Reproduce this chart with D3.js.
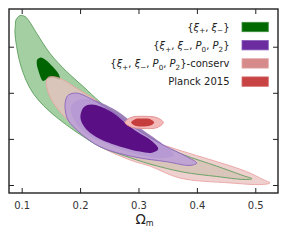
<!DOCTYPE html>
<html>
<head>
<meta charset="utf-8">
<script src="https://cdn.jsdelivr.net/npm/d3@7"></script>
<style>
html, body { margin: 0; padding: 0; background: #fff; }
svg { display: block; font-family: "DejaVu Sans", sans-serif; }
</style>
</head>
<body>
<svg id="chart" width="289" height="241"></svg>
<script>
// tick values (the sigma_8 axis has no labels in this panel)
const xTicks = [0.1, 0.2, 0.3, 0.4, 0.5];
const yTicks = [0.6, 0.8, 1.0, 1.2];

// contours as [Omega_m, sigma_8]
const xiOuter = [
    [0.0902, 1.316], [0.0971, 1.335], [0.1057, 1.331], [0.1125, 1.312],
    [0.1257, 1.258], [0.1485, 1.171], [0.1771, 1.092], [0.2055, 1.027],
    [0.2341, 0.960], [0.2769, 0.875], [0.3197, 0.795], [0.3762, 0.732],
    [0.4339, 0.682], [0.4790, 0.641], [0.4943, 0.627], [0.4807, 0.624],
    [0.4339, 0.637], [0.3767, 0.656], [0.3197, 0.691], [0.2769, 0.726],
    [0.2341, 0.766], [0.2055, 0.810], [0.1771, 0.860], [0.1485, 0.918],
    [0.1284, 0.969], [0.1142, 1.020], [0.1027, 1.085], [0.0959, 1.142],
    [0.0914, 1.200], [0.0885, 1.259], [0.0894, 1.298]
];
const xiInner = [
    [0.1330, 1.153], [0.1267, 1.144], [0.1259, 1.125], [0.1288, 1.095],
    [0.1322, 1.069], [0.1365, 1.051], [0.1433, 1.060], [0.1536, 1.066],
    [0.1656, 1.058], [0.1622, 1.086], [0.1502, 1.121], [0.1399, 1.144]
];
const conservOuter = [
    [0.1455, 1.067], [0.1425, 1.051], [0.1433, 1.021], [0.1485, 0.982],
    [0.1604, 0.934], [0.1771, 0.886], [0.2055, 0.821], [0.2341, 0.767],
    [0.2906, 0.704], [0.3197, 0.682], [0.3711, 0.630], [0.4567, 0.609],
    [0.5115, 0.602], [0.5252, 0.609], [0.5132, 0.624], [0.4853, 0.658],
    [0.4281, 0.706], [0.3711, 0.750], [0.3197, 0.797], [0.2769, 0.871],
    [0.2341, 0.956], [0.1964, 1.016], [0.1712, 1.056], [0.1570, 1.069]
];
const conservInner = [
    [0.1896, 0.960], [0.2135, 0.973], [0.2546, 0.934], [0.3026, 0.847],
    [0.3454, 0.769], [0.3608, 0.730], [0.3454, 0.717], [0.3026, 0.730],
    [0.2512, 0.774], [0.2084, 0.826], [0.1878, 0.891], [0.1844, 0.934]
];
const fullOuter = [
    [0.1798, 0.990], [0.1942, 0.999], [0.2170, 0.976], [0.2512, 0.925],
    [0.2906, 0.853], [0.3368, 0.781], [0.3825, 0.723], [0.3997, 0.695],
    [0.3882, 0.685], [0.3483, 0.701], [0.2906, 0.723], [0.2341, 0.766],
    [0.1998, 0.826], [0.1793, 0.882], [0.1741, 0.940], [0.1759, 0.973]
];
const fullInner = [
    [0.2067, 0.938], [0.2204, 0.949], [0.2512, 0.921], [0.2906, 0.843],
    [0.3248, 0.787], [0.3339, 0.756], [0.3231, 0.740], [0.3026, 0.745],
    [0.2740, 0.763], [0.2341, 0.800], [0.2118, 0.839], [0.2007, 0.891]
];
const planckOuter = [
    [0.2769, 0.871], [0.2872, 0.893], [0.3094, 0.898], [0.3317, 0.892],
    [0.3425, 0.871], [0.3317, 0.849], [0.3094, 0.845], [0.2872, 0.852]
];
const planckInner = [
    [0.2875, 0.871], [0.2940, 0.885], [0.3072, 0.888], [0.3205, 0.885],
    [0.3269, 0.871], [0.3205, 0.858], [0.3072, 0.854], [0.2940, 0.857]
];

// legend labels: [text, kind] with kind "" plain, "i" italic, "s" subscript
const legendNames = [
    [["{", ""], ["ξ", "i"], ["+", "s"], [", ", ""], ["ξ", "i"], ["−", "s"], ["}", ""]],
    [["{", ""], ["ξ", "i"], ["+", "s"], [", ", ""], ["ξ", "i"], ["−", "s"], [", ", ""],
     ["P", "i"], ["0", "s"], [", ", ""], ["P", "i"], ["2", "s"], ["}", ""]],
    [["{", ""], ["ξ", "i"], ["+", "s"], [", ", ""], ["ξ", "i"], ["−", "s"], [", ", ""],
     ["P", "i"], ["0", "s"], [", ", ""], ["P", "i"], ["2", "s"], ["}-conserv", ""]],
    [["Planck 2015", ""]]
];
const legendColors = ["#006a00", "#6a2c9e", "#d68a8a", "#c84444"];
const legendEdges = ["#3f8f3f", "#8a5cbc", "#e4a8a8", "#d46a6a"];

const svg = d3.select('#chart');
const mLeft = 9, mRight = 278, mTop = 9, mBottom = 193;

const x = d3.scaleLinear().domain([0.0783, 0.5389]).range([mLeft, mRight]);
const y = d3.scaleLinear().domain([0.5653, 1.3636]).range([mBottom, mTop]);

let line = d3.line()
    .x(function (d) { return x(d[0]); })
    .y(function (d) { return y(d[1]); })
    .curve(d3.curveCatmullRomClosed.alpha(0.5));

let plot = svg.append('g');

function contour(pts, fill, stroke, opacity) {
    plot.append('path')
        .attr('d', line(pts))
        .attr('fill', fill)
        .attr('fill-opacity', opacity)
        .attr('stroke', stroke || 'none')
        .attr('stroke-width', 0.9);
}

// order of layers matters: conserv sits over xi, full sits over both
contour(xiOuter, '#a3cfa3', null, 1);
contour(xiInner, '#006400', null, 1);
contour(conservOuter, '#e9c2bf', '#eaa4a4', 0.77);
contour(xiOuter, 'none', '#5c9e5c', 1);
contour(conservInner, '#9c80b8', null, 1);
contour(fullOuter, '#bc9ed8', '#8c66bb', 0.86);
contour(fullInner, '#5a0f84', null, 1);
contour(planckOuter, '#f3b8b8', '#e28c8c', 1);
contour(planckInner, '#c63d3d', null, 1);

// axes with inward ticks on all four sides
function styleAxis(g) {
    g.select('.domain').remove();
    g.selectAll('.tick line').attr('stroke', '#222');
}

svg.append('g')
    .attr('transform', 'translate(0,' + mBottom + ')')
    .call(d3.axisBottom(x).tickValues(xTicks).tickSizeInner(-5).tickSizeOuter(0)
        .tickPadding(9).tickFormat(d3.format('.1f')))
    .call(styleAxis)
    .call(g => g.selectAll('text')
        .attr('font-family', '"DejaVu Sans", sans-serif')
        .attr('font-size', 10).attr('fill', '#333'));

svg.append('g')
    .attr('transform', 'translate(0,' + mTop + ')')
    .call(d3.axisTop(x).tickValues(xTicks).tickSizeInner(-5).tickSizeOuter(0).tickFormat(''))
    .call(styleAxis);

svg.append('g')
    .attr('transform', 'translate(' + mLeft + ',0)')
    .call(d3.axisLeft(y).tickValues(yTicks).tickSizeInner(-5).tickSizeOuter(0).tickFormat(''))
    .call(styleAxis);

svg.append('g')
    .attr('transform', 'translate(' + mRight + ',0)')
    .call(d3.axisRight(y).tickValues(yTicks).tickSizeInner(-5).tickSizeOuter(0).tickFormat(''))
    .call(styleAxis);

svg.append('rect')
    .attr('x', mLeft).attr('y', mTop)
    .attr('width', mRight - mLeft).attr('height', mBottom - mTop)
    .attr('fill', 'none').attr('stroke', '#222').attr('stroke-width', 1.4);

// mixed text with italic and subscript pieces
function richText(sel, parts, size) {
    let shift = 0;
    parts.forEach(function (p) {
        const t = sel.append('tspan').text(p[0]);
        const target = p[1] === 's' ? size * 0.28 : 0;
        t.attr('dy', target - shift);
        shift = target;
        if (p[1] === 's') t.attr('font-size', size * 0.72);
        if (p[1] === 'i') t.attr('font-style', 'italic');
    });
}

// x axis title
let xt = svg.append('text')
    .attr('x', 144.5).attr('y', 223.5)
    .attr('text-anchor', 'middle')
    .attr('fill', '#222');
xt.append('tspan').attr('font-size', 13.5).text('Ω');
xt.append('tspan').attr('font-size', 8).attr('dy', 2.5).text('m');

// legend
const rowY = 27, rowStep = 18.2;
legendNames.forEach(function (parts, i) {
    const cy = rowY + rowStep * i;
    let t = svg.append('text')
        .attr('x', 229.5).attr('y', cy + 3.5)
        .attr('text-anchor', 'end')
        .attr('font-size', 10)
        .attr('fill', '#222');
    richText(t, parts, 10);
    svg.append('rect')
        .attr('x', 242).attr('y', cy - 4.7)
        .attr('width', 26.3).attr('height', 9.4)
        .attr('fill', legendColors[i])
        .attr('stroke', legendEdges[i]).attr('stroke-width', 0.8);
});
</script>
</body>
</html>
